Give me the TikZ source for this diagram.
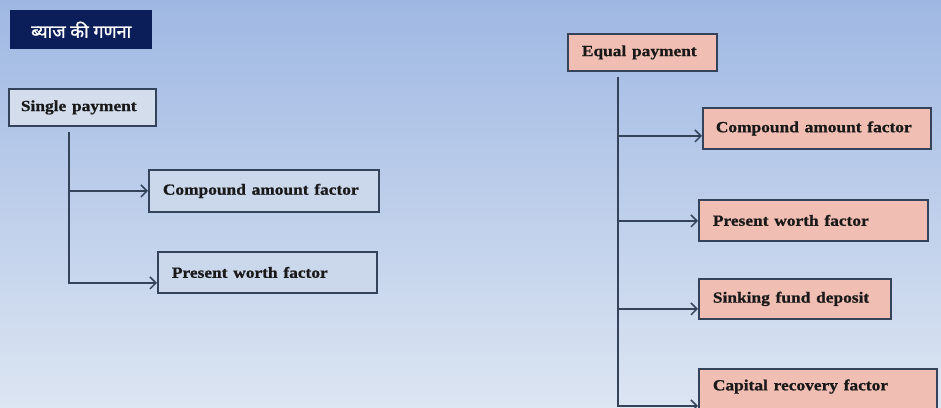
\documentclass[tikz,border=0pt]{standalone}
\usepackage{fontspec}
\setmainfont{Liberation Serif}[BoldFeatures={FakeBold=0.8}]
\newfontfamily\devfont[Script=Devanagari,FakeBold=1.2]{Noto Sans}
\usetikzlibrary{arrows.meta}
\definecolor{bgtop}{HTML}{9FB8E3}
\definecolor{bgbot}{HTML}{DCE5F2}
\definecolor{navy}{HTML}{0B1E5A}
\definecolor{edgec}{HTML}{34435A}
\definecolor{bluefill}{HTML}{CBD8EB}
\definecolor{bluefilltop}{HTML}{D3DDEC}
\definecolor{pinkfill}{HTML}{F0BEB3}
\newcommand{\bx}[1]{\scalebox{1.12}[1]{#1}}
\tikzset{
  box/.style={draw=edgec, line width=1.8pt, anchor=north west, inner sep=0pt,
    text=black!90, font=\fontsize{15.5}{18}\selectfont\bfseries, align=left},
  bluebox/.style={box, fill=bluefill},
  pinkbox/.style={box, fill=pinkfill},
  arr/.style={draw=edgec, line width=1.8pt, -{Straight Barb[length=6pt,width=12pt,line width=1.5pt]}},
  trunk/.style={draw=edgec, line width=1.8pt},
}
\begin{document}
\begin{tikzpicture}[x=1pt,y=-1pt]
\shade[top color=bgtop, bottom color=bgbot] (0,0) rectangle (941,407);
\useasboundingbox (0,0) rectangle (941,407);

% title
\node[anchor=north west, fill=navy, minimum width=142pt, minimum height=39pt, inner sep=0pt,
  text=white, font=\devfont\fontsize{18}{20}\selectfont] (title) at (10,10) {ब्याज की गणना};

% left tree
\node[box, fill=bluefilltop, minimum width=147pt, minimum height=37pt, text width=147pt] (sp) at (8,88) {\hspace*{12pt}\bx{Single payment}};
\node[bluebox, minimum width=230pt, minimum height=42pt, text width=230pt] (caf1) at (148,169) {\hspace*{14pt}\bx{Compound amount factor}};
\node[bluebox, minimum width=219pt, minimum height=41pt, text width=219pt] (pwf1) at (157,251) {\hspace*{14pt}\bx{Present worth factor}};

\coordinate (spb) at (69,132);
\draw[trunk] (spb) -- (69,282);
\draw[arr] (spb) |- (caf1.west);
\draw[arr] (spb) |- ([yshift=-10.5pt]pwf1.west);

% right tree
\node[pinkbox, minimum width=149pt, minimum height=37pt, text width=149pt] (ep) at (567,33) {\hspace*{14pt}\bx{Equal payment}};
\node[pinkbox, minimum width=228pt, minimum height=41pt, text width=228pt] (caf2) at (702,107) {\hspace*{13pt}\bx{Compound amount factor}};
\node[pinkbox, minimum width=229pt, minimum height=41pt, text width=229pt] (pwf2) at (698,199) {\hspace*{14pt}\bx{Present worth factor}};
\node[pinkbox, minimum width=192pt, minimum height=40pt, text width=192pt] (sfd) at (698,278) {\hspace*{14pt}\bx{Sinking fund deposit}};
\node[pinkbox, minimum width=238pt, minimum height=44pt, text width=238pt, text depth=12pt] (crf) at (698,368) {\hspace*{14pt}\bx{Capital recovery factor}};

\coordinate (epb) at (618,77);
\draw[trunk] (epb) -- (618,405);
\draw[arr] (epb) |- ([yshift=-7.5pt]caf2.west);
\draw[arr] (epb) |- ([yshift=-0.5pt]pwf2.west);
\draw[arr] (epb) |- ([yshift=-10pt]sfd.west);
\draw[arr] (epb) |- ([yshift=-15pt]crf.west);
\end{tikzpicture}
\end{document}
